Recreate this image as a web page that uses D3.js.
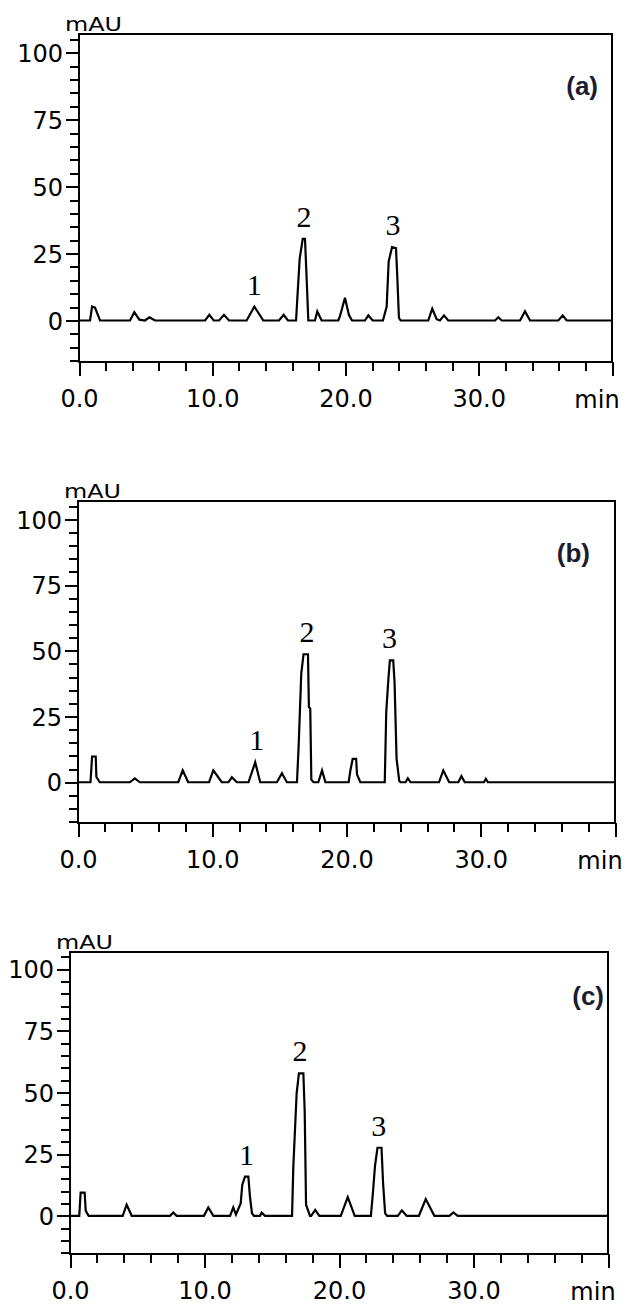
<!DOCTYPE html>
<html>
<head>
<meta charset="utf-8">
<script src="https://cdn.jsdelivr.net/npm/d3@7"></script>
<style>
  body { margin: 0; background: #fff; }
</style>
</head>
<body>
<div id="chart"></div>
<script>
// panel names and peak numbers
const panelNames = ["(a)", "(b)", "(c)"];
const peakNames = ["1", "2", "3"];

// axes
const timeDomain = [0, 40];
const mauDomain = [-15.5, 107];
const timeLabels = [0, 10, 20, 30];
const mauLabels = [0, 25, 50, 75, 100];

// chromatogram vertices, [min, mAU]
const traceA = [
  [0, 0], [0.83, 0], [0.98, 5.2], [1.2, 4.8], [1.58, 0],
  [3.83, 0], [4.15, 3.1], [4.53, 0.3], [4.95, 0], [5.28, 1.2], [5.7, 0],
  [9.46, 0], [9.78, 2.1], [10.11, 0], [10.51, 0], [10.88, 2.1], [11.26, 0],
  [12.58, 0], [13.16, 5.2], [13.83, 0],
  [15.01, 0], [15.36, 2.1], [15.68, 0],
  [16.29, 0], [16.39, 8.7], [16.56, 23], [16.79, 30.5], [16.96, 30.5], [17.09, 14.9], [17.21, 0],
  [17.71, 0], [17.88, 3.4], [18.21, 0],
  [19.46, 0], [19.59, 1.7], [19.96, 8.5], [20.26, 2], [20.49, 0],
  [21.46, 0], [21.71, 1.9], [22.04, 0],
  [22.81, 0], [23.09, 5.2], [23.24, 22], [23.49, 27.4], [23.79, 27], [23.89, 16], [24.01, 1], [24.14, 0],
  [26.21, 0], [26.51, 4.4], [26.84, 0.5], [27.09, 0], [27.39, 1.9], [27.71, 0],
  [31.22, 0], [31.47, 1.2], [31.72, 0],
  [33.1, 0], [33.47, 3.4], [33.85, 0],
  [35.97, 0], [36.3, 1.9], [36.6, 0],
  [40, 0]
];
const traceB = [
  [0, 0], [0.93, 0], [1.05, 9.8], [1.32, 9.8], [1.37, 2], [1.62, 0],
  [3.86, 0], [4.23, 1.5], [4.61, 0],
  [7.47, 0], [7.8, 4.5], [8.21, 0],
  [9.76, 0], [10.08, 4.5], [10.71, 0],
  [11.2, 0], [11.46, 1.9], [11.83, 0],
  [12.7, 0], [13.2, 7.6], [13.57, 0],
  [14.82, 0], [15.19, 3.4], [15.56, 0],
  [16.31, 0], [16.43, 13.1], [16.63, 41.3], [16.8, 48.7], [17.13, 48.7], [17.2, 28.6], [17.3, 28], [17.38, 1], [17.55, 0],
  [17.9, 0], [18.18, 4.5], [18.43, 0],
  [20.16, 0], [20.29, 4.5], [20.46, 8.9], [20.72, 8.9], [20.78, 3], [21.03, 0],
  [22.85, 0], [22.96, 26.7], [23.13, 40], [23.23, 46.4], [23.48, 46.4], [23.58, 38], [23.73, 8.9], [23.93, 0.5], [24.03, 0],
  [24.4, 0], [24.57, 1.5], [24.77, 0],
  [26.89, 0], [27.21, 4.5], [27.65, 0],
  [28.33, 0], [28.56, 2.3], [28.81, 0],
  [30.23, 0], [30.38, 1.3], [30.53, 0],
  [40, 0]
];
const traceC = [
  [0, 0], [0.69, 0], [0.79, 9.4], [1.09, 9.4], [1.17, 2], [1.39, 0],
  [3.92, 0], [4.21, 4.5], [4.59, 0],
  [7.43, 0], [7.68, 1.3], [7.93, 0],
  [9.96, 0], [10.28, 3.4], [10.66, 0],
  [11.9, 0], [12.14, 3.4], [12.34, 0.5], [12.69, 5], [12.81, 12.6], [13.01, 15.9], [13.26, 15.9], [13.38, 7.8], [13.53, 1], [13.68, 0],
  [14.13, 0], [14.25, 1.3], [14.5, 0],
  [16.51, 0], [16.6, 19.3], [16.85, 49.7], [17.02, 57.8], [17.35, 57.8], [17.45, 42.2], [17.55, 4.5], [17.84, 0],
  [17.93, 0], [18.23, 2.4], [18.54, 0],
  [20.13, 0], [20.65, 7.6], [21.17, 0],
  [22.37, 0], [22.5, 7.9], [22.68, 20.4], [22.86, 27.6], [23.16, 27.6], [23.28, 13], [23.43, 1], [23.58, 0],
  [24.37, 0], [24.67, 2.2], [25.03, 0],
  [25.94, 0], [26.45, 6.8], [27.09, 0],
  [28.21, 0], [28.51, 1.4], [28.82, 0],
  [40, 0]
];

// numbered peaks, [min, mAU] of the apex
const peaksA = [[13.16, 5.2], [16.88, 30.5], [23.56, 27.4]];
const peaksB = [[13.32, 7.6], [17.05, 48.7], [23.2, 46.4]];
const peaksC = [[13.13, 15.9], [17.1, 57.8], [22.95, 27.6]];

const traces = [traceA, traceB, traceC];
const peaks = [peaksA, peaksB, peaksC];

// frame of each panel on the page
const layout = [
  {left: 79, right: 612, top: 34, bottom: 362, nameDx: 14, nameDy: 61},
  {left: 78, right: 615, top: 501, bottom: 823, nameDx: 25, nameDy: 61},
  {left: 70, right: 608, top: 952, bottom: 1254, nameDx: 4, nameDy: 53}
];

const width = 638, height = 1309;
const tickFont = "'DejaVu Sans', sans-serif";

const svg = d3.select("#chart")
  .append("svg")
  .attr("width", width)
  .attr("height", height)
  .style("background", "#fff");

panelNames.forEach((name, i) => {
  const box = layout[i];
  const x = d3.scaleLinear().domain(timeDomain).range([box.left, box.right]);
  const y = d3.scaleLinear().domain(mauDomain).range([box.bottom, box.top]);
  const g = svg.append("g");

  // minor ticks
  const xMinor = d3.range(0, 41, 2).filter(d => d % 10 !== 0);
  const yMinor = d3.range(-15, 106, 5).filter(d => d % 25 !== 0);

  const xMinorAxis = g.append("g")
    .attr("transform", `translate(0,${box.bottom})`)
    .call(d3.axisBottom(x).tickValues(xMinor).tickSize(9).tickFormat(""));
  const yMinorAxis = g.append("g")
    .attr("transform", `translate(${box.left},0)`)
    .call(d3.axisLeft(y).tickValues(yMinor).tickSize(9).tickFormat(""));

  // major ticks with labels
  const xAxis = g.append("g")
    .attr("transform", `translate(0,${box.bottom})`)
    .call(d3.axisBottom(x).tickValues(timeLabels.concat([40])).tickSize(14)
      .tickPadding(14).tickFormat(d => d < 40 ? d3.format(".1f")(d) : ""));
  const yAxis = g.append("g")
    .attr("transform", `translate(${box.left},0)`)
    .call(d3.axisLeft(y).tickValues(mauLabels).tickSize(13).tickPadding(3));

  [xMinorAxis, yMinorAxis, xAxis, yAxis].forEach(a => {
    a.select(".domain").remove();
    a.selectAll("line").attr("stroke", "#000").attr("stroke-width", 2)
      .attr("shape-rendering", "crispEdges");
    a.selectAll("text")
      .attr("fill", "#000")
      .style("font-family", tickFont)
      .style("font-size", "24px");
  });
  xAxis.selectAll("text").attr("dy", "0.72em");
  yAxis.selectAll("text").attr("dy", "0.36em");

  // frame
  g.append("rect")
    .attr("x", box.left)
    .attr("y", box.top)
    .attr("width", box.right - box.left)
    .attr("height", box.bottom - box.top)
    .attr("fill", "none")
    .attr("stroke", "#000")
    .attr("stroke-width", 2.5)
    .attr("shape-rendering", "crispEdges");

  // trace
  const line = d3.line().x(d => x(d[0])).y(d => y(d[1]));
  g.append("path")
    .datum(traces[i])
    .attr("d", line)
    .attr("fill", "none")
    .attr("stroke", "#000")
    .attr("stroke-width", 2.2)
    .attr("stroke-linejoin", "miter");

  // peak numbers
  g.selectAll(".peak")
    .data(peaks[i])
    .join("text")
    .attr("class", "peak")
    .attr("x", d => x(d[0]))
    .attr("y", d => y(d[1]) - 12)
    .attr("text-anchor", "middle")
    .style("font-family", "'Liberation Serif', serif")
    .style("font-size", "30px")
    .text((d, j) => peakNames[j]);

  // unit labels
  g.append("text")
    .attr("x", box.left - 14)
    .attr("y", box.top - 3.5)
    .attr("textLength", 57)
    .attr("lengthAdjust", "spacingAndGlyphs")
    .style("font-family", tickFont)
    .style("font-size", "20px")
    .text("mAU");

  g.append("text")
    .attr("x", box.right - 15)
    .attr("y", box.bottom + 46)
    .attr("text-anchor", "middle")
    .style("font-family", tickFont)
    .style("font-size", "24px")
    .text("min");

  // panel name
  g.append("text")
    .attr("x", box.right - box.nameDx)
    .attr("y", box.top + box.nameDy)
    .attr("text-anchor", "end")
    .attr("fill", "#1c1c30")
    .style("font-family", "'Liberation Sans', Arial, sans-serif")
    .style("font-weight", "bold")
    .style("font-size", "26px")
    .text(name);
});
</script>
</body>
</html>
